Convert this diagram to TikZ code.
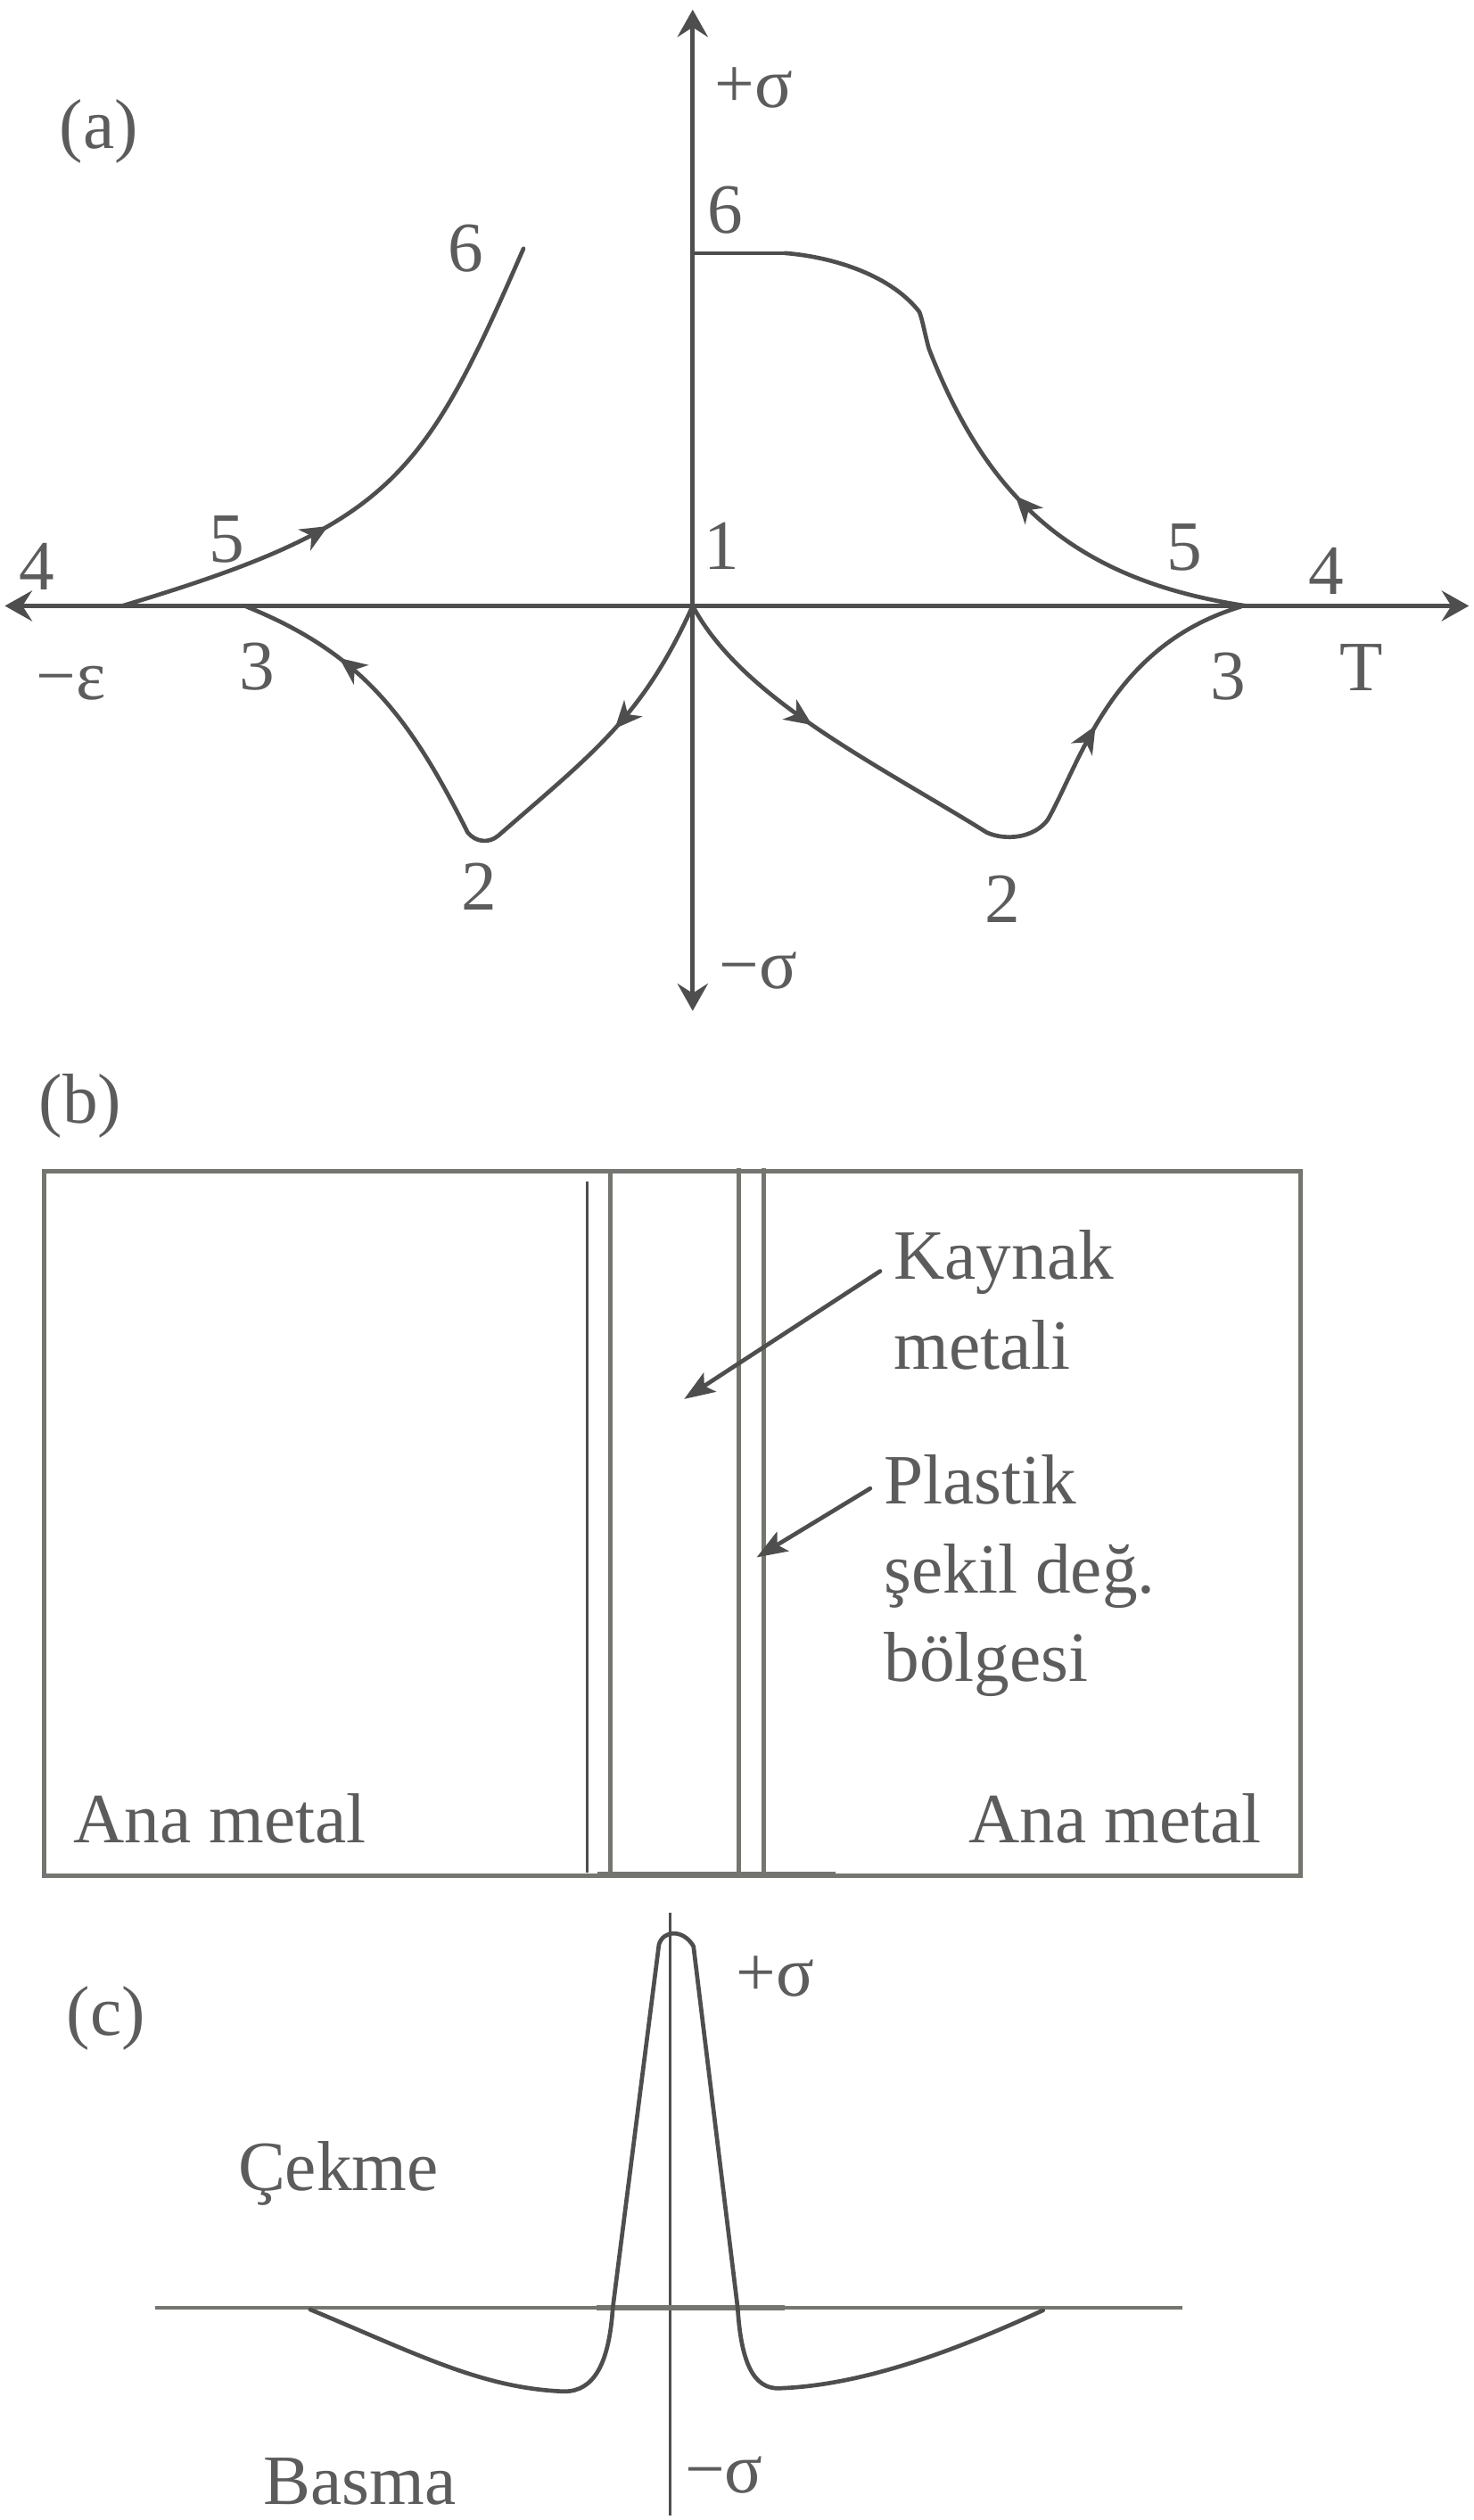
\documentclass[tikz,border=0pt]{standalone}
\usepackage{fontspec}
\setmainfont{Liberation Serif}
\usetikzlibrary{arrows.meta,decorations.markings}

\definecolor{curvegray}{HTML}{4E4E4E}
\definecolor{boxgray}{HTML}{75756F}
\definecolor{txtgray}{HTML}{5C5C5C}

\tikzset{
  axistip/.tip={Stealth[length=17pt,width=19pt,inset=6pt]},
  flowtip/.tip={Stealth[length=17pt,width=15pt,inset=5pt]},
  pointtip/.tip={Stealth[length=19pt,width=14pt,inset=4pt]}
}

\begin{document}
\begin{tikzpicture}[x=1pt,y=1pt,yscale=-1,
    ink/.style={draw=curvegray,line width=2.6pt,line cap=round,line join=round},
    frame/.style={draw=boxgray,line width=2.8pt},
    lbl/.style={anchor=base,inner sep=0pt,text=txtgray,font=\fontsize{44}{52}\selectfont},
    flow/.style={postaction={decorate},decoration={markings,mark=at position #1 with {\arrow{flowtip}}}},
    flowtwo/.style 2 args={postaction={decorate},decoration={markings,
        mark=at position #1 with {\arrow{flowtip}},mark=at position #2 with {\arrow{flowtip}}}},
    pointer/.style={ink,arrows={-pointtip},shorten <=10pt}]
\useasboundingbox (0,0) rectangle (917,1568);

%Part (a): axes
\coordinate (aleft) at (3,377);
\coordinate (aright) at (914,377);
\coordinate (atop) at (431,6);
\coordinate (abot) at (431,629);
\coordinate (orig) at (431,377);
\draw[ink,arrows={axistip-axistip}] (aleft) -- (aright);
\draw[ink,arrows={axistip-axistip}] (abot) -- (atop);

%Curve 5-6 right, with the level of 6 on the axis
\draw[ink] (431,157.5) -- (488.5,157.5);
\draw[ink,flow=0.42] (775.5,377) .. controls (668,361) and (614.3,310.3) .. (578,217)
  .. controls (575,206) and (574,199) .. (572,194)
  .. controls (555,172) and (520,160) .. (488.5,157.5);
%Curve 5-6 left
\draw[ink,flow=0.39] (76,377) .. controls (243.1,326.9) and (263,298.9) .. (325.7,154.7);
%Loop 1-2-3 left
\draw[ink,flowtwo={0.22}{0.84}] (orig) .. controls (399.8,445.9) and (370.3,467.5) .. (310,520)
  .. controls (304,525) and (296,524) .. (291,518)
  .. controls (254.4,444.8) and (224.1,406.2) .. (153.5,377.5);
%Loop 1-2-3 right
\draw[ink,flowtwo={0.23}{0.74}] (orig) .. controls (462,435) and (545,475) .. (614,518)
  .. controls (625,523) and (643,522) .. (652,510)
  .. controls (673.3,471.7) and (692,401.8) .. (772,377.5);

%Labels (a)
\node[lbl] (capa) at (61.5,92.5) {(a)};
\node[lbl] (psig) at (469,67) {+σ};
\node[lbl] (msig) at (472,615) {−σ};
\node[lbl] (meps) at (44,435) {−ε};
\node[lbl] (tee) at (847,429.5) {T};
\node[lbl] (one) at (449,354) {1};
\node[lbl] (sixL) at (290,169) {6};
\node[lbl] (sixR) at (451.5,145) {6};
\node[lbl] (fiveL) at (141,350) {5};
\node[lbl] (fiveR) at (737,355) {5};
\node[lbl] (fourL) at (23,367) {4};
\node[lbl] (fourR) at (825,370) {4};
\node[lbl] (threeL) at (160,429) {3};
\node[lbl] (threeR) at (764,435) {3};
\node[lbl] (twoL) at (298,566) {2};
\node[lbl] (twoR) at (624,574) {2};

%Part (b): plate and weld
\node[lbl] (capb) at (50,699) {(b)};
\draw[frame] (27.5,729) rectangle (809,1167);
\draw[draw=curvegray,line width=1.4pt] (365.5,735) -- (365.5,1165);
\draw[frame] (380,729) -- (380,1167);
\draw[frame] (459.7,727) -- (459.7,1168);
\draw[frame] (475.4,727) -- (475.4,1167);
\draw[draw=boxgray,line width=3.6pt] (372,1166.5) -- (520,1166.5);

\node[lbl,anchor=base west] (kaynak) at (556,796) {Kaynak};
\node[lbl,anchor=base west] (metali) at (556,852) {metali};
\node[lbl,anchor=base west] (plastik) at (550,936) {Plastik};
\node[lbl,anchor=base west] (sekil) at (550,991) {şekil değ.};
\node[lbl,anchor=base west] (bolge) at (550,1046) {bölgesi};
\node[lbl,anchor=base west] (anaL) at (45.6,1146.7) {Ana metal};
\node[lbl,anchor=base east] (anaR) at (785,1146.7) {Ana metal};

\coordinate (weld) at (425.7,870.5);
\coordinate (plzone) at (470.8,969);
\draw[pointer] (kaynak.west) -- (weld);
\draw[pointer] (plastik.west) -- (plzone);

%Part (c): stress across the joint
\node[lbl] (capc) at (66,1266.5) {(c)};
\draw[draw=curvegray,line width=1.4pt] (417,1190) -- (417,1565);
\draw[draw=boxgray,line width=2.6pt] (96.5,1436) -- (735.7,1436);
\draw[draw=boxgray,line width=3.6pt] (371,1436) -- (488,1436);
\draw[ink] (193,1437) .. controls (260,1465) and (300,1486) .. (351,1488)
  .. controls (370,1488) and (379,1470) .. (381.3,1436)
  -- (410,1210) .. controls (412.5,1201) and (425,1200) .. (431.5,1211) -- (459,1436)
  .. controls (461,1468) and (468,1487) .. (485.4,1486)
  .. controls (540,1484) and (600,1460) .. (649,1437.5);

\node[lbl] (psigc) at (482.5,1242) {+σ};
\node[lbl] (msigc) at (450.5,1551) {−σ};
\node[lbl] (cekme) at (210.5,1363) {Çekme};
\node[lbl] (basma) at (224,1558) {Basma};
\end{tikzpicture}
\end{document}
